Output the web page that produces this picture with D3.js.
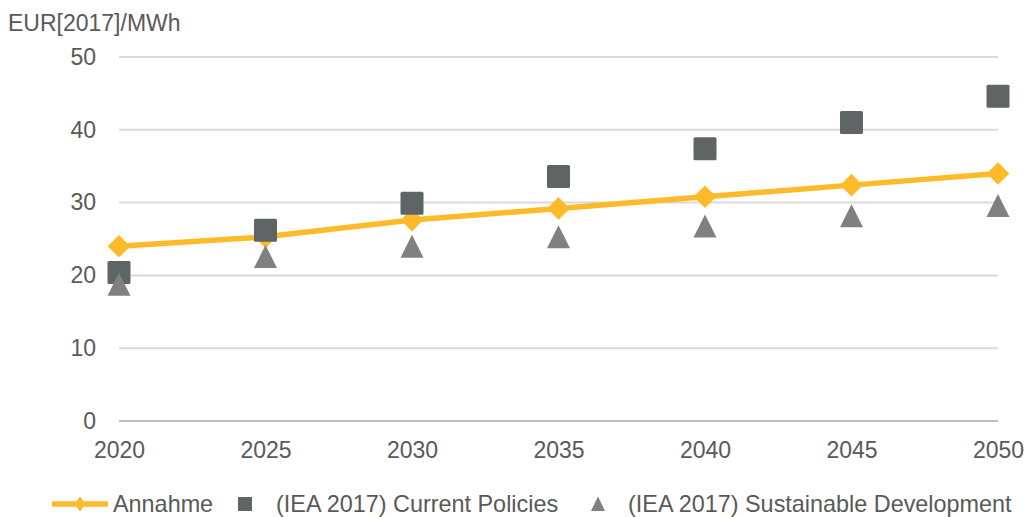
<!DOCTYPE html>
<html><head><meta charset="utf-8">
<script src="https://cdn.jsdelivr.net/npm/d3@7"></script>
<style>body{margin:0;background:#fff}svg{display:block}text{font-family:"Liberation Sans",Arial,sans-serif;fill:#595959}</style>
</head><body><svg id="c" width="1030" height="517"></svg>
<script>
const years = [2020, 2025, 2030, 2035, 2040, 2045, 2050];
const annahme = [24.0, 25.3, 27.6, 29.2, 30.8, 32.4, 34.0];
const currentPolicies = [20.4, 26.2, 29.9, 33.6, 37.4, 41.0, 44.6];
const sustainable = [18.8, 22.6, 24.0, 25.3, 26.8, 28.2, 29.6];
const yTicks = [0, 10, 20, 30, 40, 50];
const yTitle = "EUR[2017]/MWh";
const legendLabels = ["Annahme", "(IEA 2017) Current Policies", "(IEA 2017) Sustainable Development"];

const svg = d3.select("#c");
const x = d3.scaleLinear().domain([2020, 2050]).range([119, 998]);
const y = d3.scaleLinear().domain([0, 50]).range([421, 57]);
const gold = "#FDBB2A", sq = "#5F6564", tri = "#808080";
const fs = "23px";

// gridlines
svg.append("g").selectAll("line").data(yTicks).join("line")
  .attr("x1", x(2020)).attr("x2", x(2050))
  .attr("y1", d => y(d)).attr("y2", d => y(d))
  .attr("stroke", d => d === 0 ? "#BFBFBF" : "#D9D9D9").attr("stroke-width", 2);

// y axis labels
const yAxis = d3.axisLeft(y).tickValues(yTicks).tickSize(0).tickPadding(23);
const gy = svg.append("g").attr("transform", `translate(${x(2020)},0)`).call(yAxis);
gy.select(".domain").remove();
gy.selectAll("text").style("font-size", fs).style("font-family", "Liberation Sans").attr("fill", "#595959");

// x axis labels
const xAxis = d3.axisBottom(x).tickValues(years).tickFormat(d3.format("d")).tickSize(0).tickPadding(21);
const gx = svg.append("g").attr("transform", `translate(0,${y(0)})`).call(xAxis);
gx.select(".domain").remove();
gx.selectAll("text").style("font-size", fs).style("font-family", "Liberation Sans").attr("fill", "#595959");

svg.append("text").attr("x", 8).attr("y", 31).style("font-size", fs).text(yTitle);

// line
svg.append("path").datum(years.map((yr, i) => [yr, annahme[i]]))
  .attr("d", d3.line().x(d => x(d[0])).y(d => y(d[1])))
  .attr("fill", "none").attr("stroke", gold).attr("stroke-width", 5.5);

const diamond = d3.symbol().type(d3.symbolSquare).size(16 * 16);
svg.append("g").selectAll("path").data(years).join("path")
  .attr("d", diamond)
  .attr("transform", (d, i) => `translate(${x(d)},${y(annahme[i])}) rotate(45)`)
  .attr("fill", gold);

svg.append("g").selectAll("rect").data(years).join("rect")
  .attr("x", d => x(d) - 11.5).attr("y", (d, i) => y(currentPolicies[i]) - 11.5)
  .attr("width", 23).attr("height", 23).attr("rx", 1.5).attr("fill", sq);

const triPath = "M0,-11.5L11.5,11.5L-11.5,11.5Z";
svg.append("g").selectAll("path").data(years).join("path")
  .attr("d", triPath)
  .attr("transform", (d, i) => `translate(${x(d)},${y(sustainable[i])})`)
  .attr("fill", tri);

// legend
const ly = 504;
const lg = svg.append("g");
lg.append("line").attr("x1", 52).attr("x2", 108).attr("y1", ly).attr("y2", ly).attr("stroke", gold).attr("stroke-width", 5.5);
lg.append("path").attr("d", "M0,-7.5L5.5,0L0,7.5L-5.5,0Z").attr("transform", `translate(80,${ly})`).attr("fill", gold);
lg.append("rect").attr("x", 238).attr("y", ly - 7).attr("width", 14).attr("height", 14).attr("fill", sq);
lg.append("path").attr("d", "M0,-7.5L7,7L-7,7Z").attr("transform", `translate(598,${ly})`).attr("fill", tri);
const lx = [113, 276, 628];
lg.selectAll("text").data(legendLabels).join("text")
  .attr("x", (d, i) => lx[i]).attr("y", 512).style("font-size", "23.4px").text(d => d);
</script></body></html>
